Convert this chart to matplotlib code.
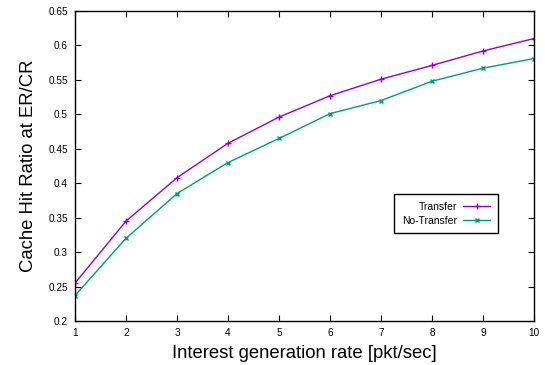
import matplotlib
matplotlib.use("Agg")
import matplotlib.pyplot as plt
import numpy as np

plt.rcParams['font.family'] = ['Liberation Sans', 'DejaVu Sans']

# Data
rates = [1, 2, 3, 4, 5, 6, 7, 8, 9, 10]
transfer = [0.255, 0.345, 0.408, 0.458, 0.496, 0.527, 0.551, 0.571, 0.592, 0.610]
no_transfer = [0.237, 0.320, 0.385, 0.430, 0.465, 0.501, 0.520, 0.548, 0.567, 0.581]
y_ticks = [0.2, 0.25, 0.3, 0.35, 0.4, 0.45, 0.5, 0.55, 0.6, 0.65]
y_tick_labels = ['0.2', '0.25', '0.3', '0.35', '0.4', '0.45', '0.5', '0.55', '0.6', '0.65']

fig = plt.figure(figsize=(5.45, 3.65), dpi=100)
ax = fig.add_axes([75 / 545, 44 / 365, 459 / 545, 310 / 365])

ax.plot(rates, transfer, color='#9400D3', marker='+', markersize=5, linewidth=1, label='Transfer')
ax.plot(rates, no_transfer, color='#009E73', marker='x', markersize=3.5, linewidth=1, label='No-Transfer')

ax.set_xlim(1, 10)
ax.set_ylim(0.2, 0.65)
ax.set_xticks(rates)
ax.set_yticks(y_ticks)
ax.set_yticklabels(y_tick_labels)
ax.tick_params(direction='in', top=True, right=True, length=4, width=0.8, labelsize=7.2, pad=5)
for s in ax.spines.values():
    s.set_linewidth(1)

ax.set_xlabel('Interest generation rate [pkt/sec]', fontsize=13.3, labelpad=5)
ax.set_ylabel('Cache Hit Ratio at ER/CR', fontsize=13.3, labelpad=8)

leg = ax.legend(loc='upper left', bbox_to_anchor=(314 / 459, 132 / 310), fontsize=7.5,
                markerfirst=False, fancybox=False, framealpha=1, edgecolor='black',
                handlelength=2.6, borderpad=0.75, labelspacing=0.35, handletextpad=0.6)
leg.get_frame().set_linewidth(1)
leg._legend_box.align = 'right'

fig.savefig('out.png', dpi=100)
